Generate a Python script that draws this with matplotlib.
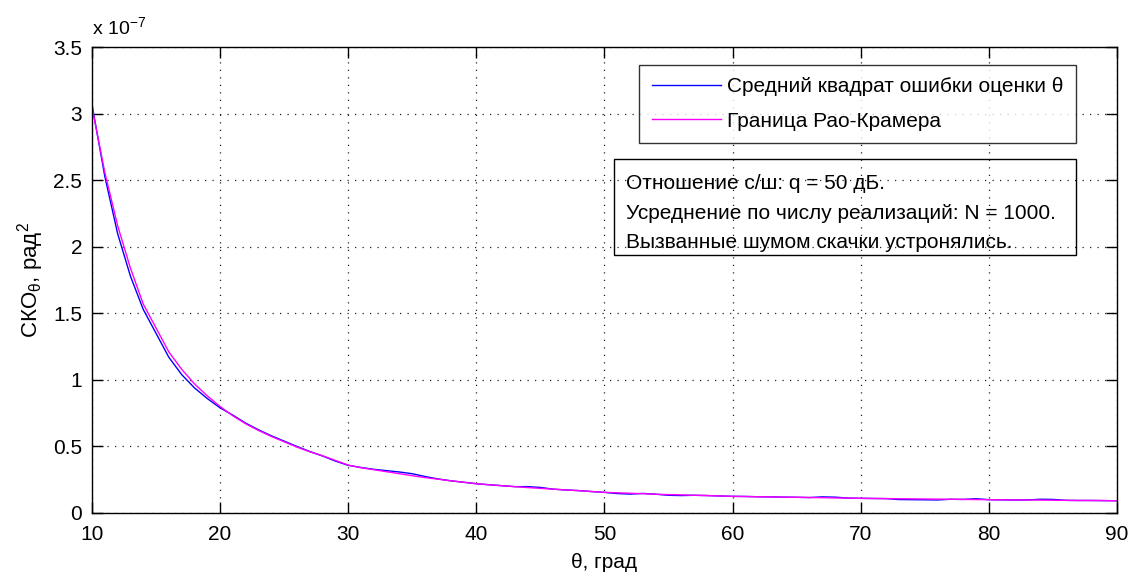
"""
MSE of the angle estimate vs. the Cramer-Rao bound, 50 dB SNR, N = 1000.
"""

import matplotlib
matplotlib.use("Agg")
import matplotlib.pyplot as plt
from matplotlib.patches import Rectangle

# angle, degrees
theta = list(range(10, 91))

# Cramer-Rao bound, units of 1e-7 rad^2
crb = [3.05, 2.56, 2.16, 1.84, 1.57, 1.39, 1.21, 1.08, 0.97, 0.88,
       0.80, 0.73, 0.67, 0.62, 0.575, 0.535, 0.495, 0.46, 0.43, 0.395,
       0.36, 0.34, 0.325, 0.31, 0.295, 0.28, 0.266, 0.254, 0.242, 0.231,
       0.220, 0.212, 0.205, 0.198, 0.191, 0.185, 0.179, 0.173, 0.168, 0.161,
       0.155, 0.152, 0.148, 0.145, 0.141, 0.138, 0.136, 0.133, 0.131, 0.128,
       0.125, 0.124, 0.122, 0.121, 0.119, 0.118, 0.116, 0.115, 0.113, 0.112,
       0.110, 0.109, 0.108, 0.107, 0.106, 0.105, 0.104, 0.103, 0.102, 0.101,
       0.100, 0.099, 0.098, 0.098, 0.097, 0.096, 0.095, 0.094, 0.094, 0.093,
       0.092]

# simulated mean squared error, units of 1e-7 rad^2
mse = [3.07, 2.53, 2.10, 1.78, 1.53, 1.35, 1.17, 1.04, 0.94, 0.86,
       0.79, 0.735, 0.675, 0.625, 0.58, 0.54, 0.50, 0.462, 0.428, 0.39,
       0.358, 0.342, 0.328, 0.318, 0.308, 0.295, 0.274, 0.256, 0.242, 0.231,
       0.220, 0.212, 0.205, 0.198, 0.198, 0.192, 0.179, 0.173, 0.168, 0.161,
       0.155, 0.146, 0.142, 0.147, 0.141, 0.133, 0.131, 0.133, 0.131, 0.128,
       0.125, 0.124, 0.122, 0.121, 0.119, 0.118, 0.116, 0.121, 0.119, 0.112,
       0.110, 0.109, 0.108, 0.101, 0.100, 0.099, 0.098, 0.103, 0.102, 0.107,
       0.100, 0.099, 0.098, 0.098, 0.103, 0.102, 0.095, 0.094, 0.094, 0.093,
       0.092]

plt.rcParams["font.family"] = ["Liberation Sans", "DejaVu Sans"]
plt.rcParams["mathtext.fontset"] = "custom"
plt.rcParams["mathtext.rm"] = "Liberation Sans"
plt.rcParams["mathtext.it"] = "Liberation Sans"

FS = 15

fig = plt.figure(figsize=(11.37, 5.76), dpi=100)
ax = fig.add_axes([0.0809, 0.1094, 0.9015, 0.8086])

ax.plot(theta, mse, color="#0000ff", lw=1.0, label="Средний квадрат ошибки оценки θ")
ax.plot(theta, crb, color="#ff00ff", lw=1.0, label="Граница Рао-Крамера")

ax.set_xlim(10, 90)
ax.set_ylim(0, 3.5)
ax.set_xticks(range(10, 91, 10))
ax.set_yticks([0, 0.5, 1, 1.5, 2, 2.5, 3, 3.5])
ax.set_yticklabels(["0", "0.5", "1", "1.5", "2", "2.5", "3", "3.5"])
ax.grid(True, color="#222222", ls=(0, (1, 5)), lw=0.9)
ax.tick_params(direction="in", length=8, width=1, labelsize=FS,
               top=True, right=True)
ax.tick_params(axis="x", pad=9)
ax.tick_params(axis="y", pad=7)
for s in ax.spines.values():
    s.set_linewidth(1.0)

ax.set_xlabel("θ, град", fontsize=FS, labelpad=6)
ax.set_ylabel("СКО$_{θ}$, рад$^2$", fontsize=FS + 1, labelpad=5)
ax.text(0.0, 1.02, "x 10$^{-7}$", transform=ax.transAxes, fontsize=FS - 1,
        ha="left", va="bottom")

leg = ax.legend(loc="upper right", bbox_to_anchor=(0.9597, 0.9629), fontsize=FS,
                frameon=True, fancybox=False, edgecolor="black",
                handlelength=3.3, borderpad=0.6, labelspacing=0.75,
                handletextpad=0.3, borderaxespad=0)
leg.get_frame().set_linewidth(1.0)

# transparent note box: grid shows through it
bx0, by0 = 0.5092, 0.5536
bw, bh = 0.4505, 0.2075
ax.add_patch(Rectangle((bx0, by0), bw, bh, transform=ax.transAxes,
                       fill=False, edgecolor="black", lw=1.0, zorder=5))
ax.text(bx0 + 0.012, by0 + bh - 0.033,
        "Отношение с/ш: q = 50 дБ.\n"
        "Усреднение по числу реализаций: N = 1000.\n"
        "Вызванные шумом скачки устронялись.",
        transform=ax.transAxes, fontsize=FS, ha="left", va="top",
        linespacing=1.72, zorder=5)

fig.savefig("out.png", dpi=100)
